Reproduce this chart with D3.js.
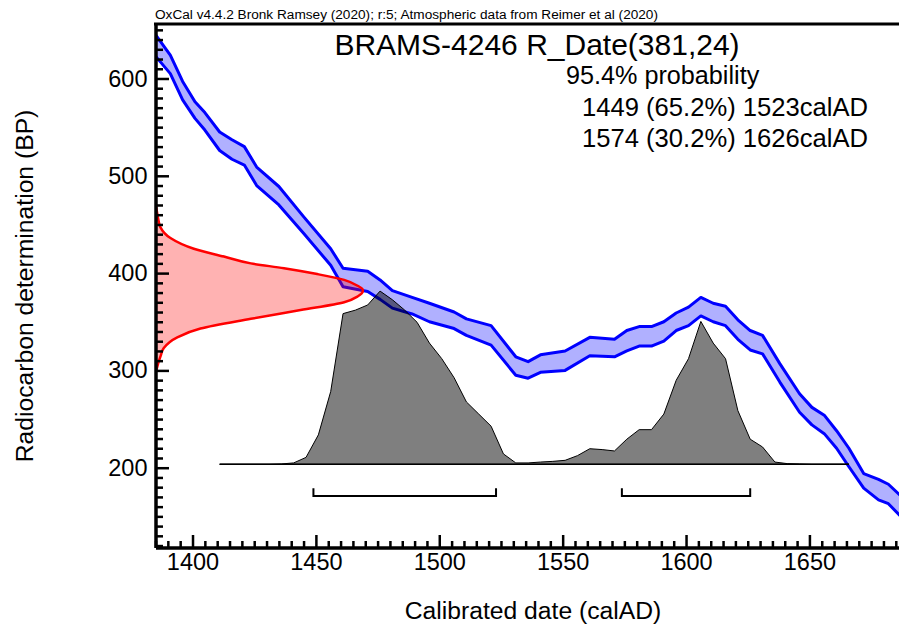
<!DOCTYPE html>
<html>
<head>
<meta charset="utf-8">
<script src="https://cdn.jsdelivr.net/npm/d3@7"></script>
<style>
  body { margin: 0; background: #fff; }
  svg text { font-family: "Liberation Sans", Arial, sans-serif; fill: #000; }
</style>
</head>
<body>
<svg id="chart" width="899" height="628"></svg>
<script>
// Calibration curve, edges of the band (BP)
const curveYears = [1385, 1391, 1396, 1401, 1405, 1411, 1416, 1421, 1426, 1435, 1445, 1456, 1461, 1471, 1476, 1481, 1489, 1496, 1506, 1511, 1521, 1531, 1536, 1541, 1551, 1561, 1571, 1576, 1581, 1586, 1591, 1596, 1601, 1606, 1611, 1616, 1621, 1626, 1631, 1638, 1646, 1651, 1656, 1661, 1666, 1672, 1678, 1682, 1687];
const curveHigh = [645, 624, 597, 576, 565, 545, 537, 530, 509, 489, 458, 425, 405, 402, 393, 382, 375, 369, 360, 353, 346, 314, 309, 316, 320, 334, 332, 341, 345, 345, 350, 359, 365, 375, 369, 366, 352, 341, 336, 307, 276, 262, 254, 238, 220, 194, 188, 183, 171];
const curveLow = [623, 605, 578, 559, 547, 526, 517, 511, 490, 470, 441, 408, 386, 381, 373, 364, 358, 350, 343, 336, 326, 295, 292, 298, 300, 315, 314, 320, 325, 325, 330, 341, 346, 356, 350, 346, 332, 321, 317, 288, 257, 244, 235, 220, 201, 179, 167, 163, 150];

// Radiocarbon measurement on the y axis (relative height)
const dateBP = [300, 308, 315, 323, 334, 343, 353, 362, 370, 376, 381, 383, 387, 393, 399, 405, 410, 417, 425, 436, 447, 457, 467];
const dateProb = [0.004, 0.014, 0.025, 0.04, 0.105, 0.217, 0.46, 0.70, 0.91, 0.975, 1.0, 1.0, 0.975, 0.91, 0.78, 0.62, 0.46, 0.33, 0.185, 0.072, 0.024, 0.012, 0.004];

// Calibrated distribution (relative probability)
const calYears = [1411, 1431, 1436, 1441, 1446, 1451, 1456, 1461, 1466, 1471, 1476, 1481, 1486, 1491, 1496, 1501, 1506, 1511, 1516, 1521, 1526, 1531, 1536, 1541, 1546, 1551, 1556, 1561, 1566, 1571, 1576, 1581, 1586, 1591, 1596, 1601, 1606, 1611, 1616, 1621, 1626, 1631, 1636, 1641, 1646, 1651, 1666];
const calProb = [0, 0, 0.002, 0.008, 0.04, 0.17, 0.42, 0.87, 0.89, 0.92, 1.0, 0.95, 0.89, 0.82, 0.70, 0.61, 0.50, 0.36, 0.29, 0.22, 0.06, 0.008, 0.008, 0.013, 0.017, 0.023, 0.05, 0.09, 0.085, 0.077, 0.145, 0.20, 0.20, 0.29, 0.485, 0.61, 0.825, 0.70, 0.61, 0.31, 0.145, 0.10, 0.013, 0.004, 0.002, 0, 0];

// 95.4% ranges
const rangeStart = [1449, 1574];
const rangeEnd = [1523, 1626];
const rangeLabels = ["1449 (65.2%) 1523calAD", "1574 (30.2%) 1626calAD"];

const xTicks = [1400, 1450, 1500, 1550, 1600, 1650];
const yTicks = [200, 300, 400, 500, 600];

const LEFT = 155.5, RIGHT = 899, TOP = 24, BOTTOM = 547.5;

let svg = d3.select("#chart");

let x = d3.scaleLinear().domain([1385, 1686.3]).range([LEFT, RIGHT]);
let y = d3.scaleLinear().domain([118, 656]).range([BOTTOM, TOP]);
// width of the measurement curve, height of the histogram
let px = d3.scaleLinear().domain([0, 1]).range([x(1385), x(1469)]);
let py = d3.scaleLinear().domain([0, 1]).range([y(203.5), y(381.5)]);

svg.append("clipPath").attr("id", "plot")
  .append("rect").attr("x", LEFT).attr("y", TOP)
  .attr("width", RIGHT - LEFT).attr("height", BOTTOM - TOP);

let plot = svg.append("g").attr("clip-path", "url(#plot)");

// calibration curve band
let curve = curveYears.map((yr, i) => ({year: yr, high: curveHigh[i], low: curveLow[i]}));
plot.append("path").datum(curve)
  .attr("fill", "rgba(0,0,255,0.31)")
  .attr("d", d3.area().x(d => x(d.year)).y0(d => y(d.low)).y1(d => y(d.high)));
["high", "low"].forEach(k => {
  plot.append("path").datum(curve)
    .attr("fill", "none").attr("stroke", "#0000ff").attr("stroke-width", 3)
    .attr("stroke-linejoin", "round")
    .attr("d", d3.line().x(d => x(d.year)).y(d => y(d[k])));
});

// measurement distribution
let meas = dateBP.map((bp, i) => ({bp: bp, p: dateProb[i]}));
plot.append("path").datum(meas)
  .attr("fill", "rgba(255,0,0,0.3)")
  .attr("stroke", "#ff0000").attr("stroke-width", 2.5)
  .attr("d", d3.area().curve(d3.curveMonotoneY)
    .y(d => y(d.bp)).x0(px(0)).x1(d => px(d.p)));

// calibrated distribution
let cal = calYears.map((yr, i) => ({year: yr, p: calProb[i]}));
plot.append("path").datum(cal)
  .attr("fill", "rgba(0,0,0,0.5)")
  .attr("stroke", "#000").attr("stroke-width", 1)
  .attr("d", d3.area().x(d => x(d.year)).y0(py(0)).y1(d => py(d.p)));
plot.append("line")
  .attr("x1", x(calYears[0])).attr("x2", x(calYears[calYears.length - 1]))
  .attr("y1", py(0)).attr("y2", py(0))
  .attr("stroke", "#000").attr("stroke-width", 1.5);

// range brackets
rangeStart.forEach((s, i) => {
  let e = rangeEnd[i];
  svg.append("path")
    .attr("fill", "none").attr("stroke", "#000").attr("stroke-width", 2)
    .attr("d", `M${x(s)},${y(179)}V${y(171)}H${x(e)}V${y(179)}`);
});

// axes
let minorX = d3.range(1385, 1690, 5).filter(v => v % 50 != 0);
let minorY = d3.range(120, 660, 10).filter(v => v % 100 != 0);

function styleAxis(g) {
  g.selectAll(".tick line").attr("stroke-width", 2.5);
  g.selectAll("text").attr("font-size", 23.5).attr("font-family", null);
}

svg.append("g").attr("transform", `translate(0,${BOTTOM})`)
  .call(d3.axisBottom(x).tickValues(minorX).tickSize(-6.5).tickFormat(""))
  .call(g => g.select(".domain").remove())
  .call(styleAxis);
svg.append("g").attr("transform", `translate(0,${BOTTOM})`)
  .call(d3.axisBottom(x).tickValues(xTicks).tickSize(-12.5).tickSizeOuter(0)
    .tickPadding(5.5).tickFormat(d3.format("d")))
  .call(g => g.select(".domain").attr("stroke-width", 3.5))
  .call(styleAxis);

svg.append("g").attr("transform", `translate(${LEFT},0)`)
  .call(d3.axisLeft(y).tickValues(minorY).tickSize(-7.5).tickFormat(""))
  .call(g => g.select(".domain").remove())
  .call(styleAxis);
svg.append("g").attr("transform", `translate(${LEFT},0)`)
  .call(d3.axisLeft(y).tickValues(yTicks).tickSize(-13.5).tickSizeOuter(0)
    .tickPadding(8))
  .call(g => g.select(".domain").attr("stroke-width", 3.5))
  .call(styleAxis);

// top border
svg.append("line")
  .attr("x1", LEFT - 1.5).attr("x2", RIGHT).attr("y1", TOP).attr("y2", TOP)
  .attr("stroke", "#000").attr("stroke-width", 3);

// texts
svg.append("text").attr("x", 155).attr("y", 18.5).attr("font-size", 12)
  .attr("textLength", 503).attr("lengthAdjust", "spacingAndGlyphs")
  .text("OxCal v4.4.2 Bronk Ramsey (2020); r:5; Atmospheric data from Reimer et al (2020)");

svg.append("text").attr("x", 537).attr("y", 55).attr("font-size", 30)
  .attr("text-anchor", "middle").text("BRAMS-4246 R_Date(381,24)");

svg.append("text").attr("x", 566).attr("y", 84).attr("font-size", 25.2)
  .text("95.4% probability");
rangeLabels.forEach((t, i) => {
  svg.append("text").attr("x", 582).attr("y", 115.5 + i * 31.5)
    .attr("font-size", 25.6).text(t);
});

svg.append("text").attr("x", 533).attr("y", 619).attr("font-size", 24.7)
  .attr("text-anchor", "middle").text("Calibrated date (calAD)");

svg.append("text").attr("transform", `translate(33,286) rotate(-90)`)
  .attr("font-size", 24.7).attr("text-anchor", "middle")
  .text("Radiocarbon determination (BP)");
</script>
</body>
</html>
